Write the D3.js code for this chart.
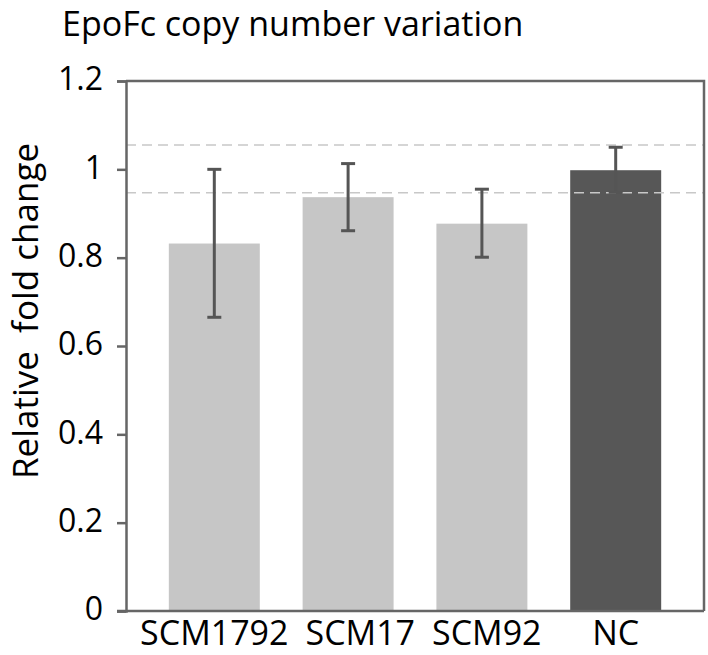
<!DOCTYPE html>
<html>
<head>
<meta charset="utf-8">
<script src="https://cdn.jsdelivr.net/npm/d3@7"></script>
<style>
  html, body { margin: 0; padding: 0; background: #fff; }
  svg text { font-family: "Open Sans", "Noto Sans", sans-serif; fill: #000; }
</style>
</head>
<body>
<div id="chart"></div>
<script>
// data
const categories = ["SCM1792", "SCM17", "SCM92", "NC"];
const means = [0.832, 0.937, 0.877, 0.998];
const errLow = [0.665, 0.861, 0.801, 0.948];
const errHigh = [1.0, 1.013, 0.955, 1.05];
const barColors = ["#c6c6c6", "#c6c6c6", "#c6c6c6", "#575757"];
const yTicks = [0, 0.2, 0.4, 0.6, 0.8, 1, 1.2];
const refLines = [1.055, 0.947];

const width = 708;
const height = 655;
const margin = { top: 81, right: 4, bottom: 44, left: 126 };

const svg = d3
  .select("#chart")
  .append("svg")
  .attr("width", width)
  .attr("height", height);

const x = d3
  .scaleBand()
  .domain(categories)
  .range([margin.left, width - margin.right])
  .paddingInner(0.32)
  .paddingOuter(0.32);

const y = d3
  .scaleLinear()
  .domain([0, 1.2])
  .range([height - margin.bottom, margin.top]);

const rows = categories.map((c, i) => ({
  cat: c,
  mean: means[i],
  lo: errLow[i],
  hi: errHigh[i],
  color: barColors[i]
}));

const axisColor = "#666";

// title
svg.append("text")
  .attr("x", 62)
  .attr("y", 36)
  .style("font-size", "34px")
  .text("EpoFc copy number variation");

// bars
svg.append("g")
  .selectAll("rect")
  .data(rows)
  .join("rect")
  .attr("x", d => x(d.cat))
  .attr("width", x.bandwidth())
  .attr("y", d => y(d.mean))
  .attr("height", d => y(0) - y(d.mean))
  .attr("fill", d => d.color);

// dashed reference lines, drawn over the bars
svg.append("g")
  .selectAll("line")
  .data(refLines)
  .join("line")
  .attr("x1", margin.left)
  .attr("x2", width - margin.right)
  .attr("y1", d => y(d))
  .attr("y2", d => y(d))
  .attr("stroke", "#c8c8c8")
  .attr("stroke-width", 1.5)
  .attr("stroke-dasharray", "10,6");

// error bars
const capW = 14;
const err = svg.append("g")
  .attr("stroke", "#555")
  .attr("stroke-width", 3)
  .selectAll("g")
  .data(rows)
  .join("g")
  .attr("transform", d => `translate(${x(d.cat) + x.bandwidth() / 2},0)`);

err.append("line")
  .attr("y1", d => y(d.lo))
  .attr("y2", d => y(d.hi));
err.append("line")
  .attr("x1", -capW / 2).attr("x2", capW / 2)
  .attr("y1", d => y(d.hi)).attr("y2", d => y(d.hi));
err.append("line")
  .attr("x1", -capW / 2).attr("x2", capW / 2)
  .attr("y1", d => y(d.lo)).attr("y2", d => y(d.lo));

// frame: top and right border
svg.append("path")
  .attr("d", `M${margin.left},${y(1.2)}H${width - margin.right}V${y(0)}`)
  .attr("fill", "none")
  .attr("stroke", axisColor)
  .attr("stroke-width", 2.5);

// bottom axis line (extends under the tick marks)
svg.append("line")
  .attr("x1", margin.left - 9)
  .attr("x2", width - margin.right)
  .attr("y1", y(0))
  .attr("y2", y(0))
  .attr("stroke", axisColor)
  .attr("stroke-width", 2.5);

// y axis
const yAxis = svg.append("g")
  .attr("transform", `translate(${margin.left},0)`)
  .call(d3.axisLeft(y).tickValues(yTicks).tickSize(9).tickPadding(14).tickFormat(d => String(d)));

yAxis.select(".domain").attr("stroke", axisColor).attr("stroke-width", 2.5);
yAxis.selectAll(".tick line").attr("stroke", axisColor).attr("stroke-width", 2.5);
yAxis.selectAll(".tick text")
  .attr("dy", "0.28em")
  .style("font-size", "32px")
  .style("font-family", "'Open Sans', sans-serif")
  .attr("fill", "#000");

// category labels, centred under the bars, pushed right if they would touch
const labels = svg.append("g")
  .selectAll("text")
  .data(rows)
  .join("text")
  .attr("x", d => x(d.cat) + x.bandwidth() / 2)
  .attr("y", 645)
  .attr("text-anchor", "middle")
  .style("font-size", "34px")
  .text(d => d.cat);

let prevRight = -Infinity;
labels.each(function () {
  const t = d3.select(this);
  const w = this.getComputedTextLength();
  let cx = +t.attr("x");
  if (cx - w / 2 < prevRight + 17) cx = prevRight + 17 + w / 2;
  t.attr("x", cx);
  prevRight = cx + w / 2;
});

// y axis title
svg.append("text")
  .attr("transform", "translate(38,311) rotate(-90)")
  .attr("text-anchor", "middle")
  .style("font-size", "35px")
  .style("white-space", "pre")
  .text("Relative  fold change");
</script>
</body>
</html>
